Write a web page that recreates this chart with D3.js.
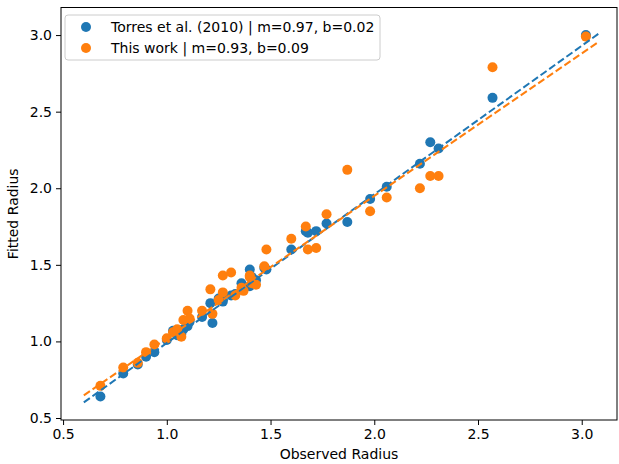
<!DOCTYPE html>
<html>
<head>
<meta charset="utf-8">
<script src="https://cdn.jsdelivr.net/npm/d3@7"></script>
<style>
  body { margin: 0; background: #fff; }
  svg { font-family: "DejaVu Sans", sans-serif; }
</style>
</head>
<body>
<div id="chart"></div>
<script>
// Observed radius, and fitted radius from each method (same stars)
const observed = [0.68, 0.79, 0.86, 0.90, 0.94, 1.00, 1.03, 1.05, 1.07, 1.08, 1.10, 1.11, 1.17, 1.21, 1.22,
  1.25, 1.27, 1.27, 1.31, 1.33, 1.36, 1.37, 1.40, 1.40, 1.41, 1.43, 1.47, 1.48, 1.60, 1.67, 1.68, 1.72,
  1.77, 1.87, 1.98, 2.06, 2.22, 2.27, 2.31, 2.57, 3.02];
const torres = [0.64, 0.79, 0.85, 0.90, 0.93, 1.01, 1.07, 1.04, 1.05, 1.08, 1.10, 1.13, 1.16, 1.25, 1.12,
  1.28, 1.31, 1.26, 1.30, 1.31, 1.38, 1.34, 1.47, 1.36, 1.42, 1.40, 1.48, 1.47, 1.60, 1.72, 1.71, 1.72,
  1.77, 1.78, 1.93, 2.01, 2.16, 2.30, 2.26, 2.59, 3.00];
const thisWork = [0.71, 0.83, 0.86, 0.93, 0.98, 1.02, 1.06, 1.08, 1.03, 1.14, 1.20, 1.15, 1.20, 1.34, 1.18,
  1.27, 1.43, 1.32, 1.45, 1.30, 1.35, 1.33, 1.42, 1.43, 1.38, 1.37, 1.49, 1.60, 1.67, 1.75, 1.60, 1.61,
  1.83, 2.12, 1.85, 1.94, 2.00, 2.08, 2.08, 2.79, 2.99];

// linear fits: y = m*x + b
const fits = [
  { label: "Torres et al. (2010)", m: 0.97, b: 0.02, color: "#1f77b4", values: torres },
  { label: "This work", m: 0.93, b: 0.09, color: "#ff7f0e", values: thisWork }
];
const fitRange = [0.6, 3.08];

const xTicks = [0.5, 1.0, 1.5, 2.0, 2.5, 3.0];
const yTicks = [0.5, 1.0, 1.5, 2.0, 2.5, 3.0];

const W = 619, H = 464;
const margin = { top: 7.5, right: 2, bottom: 44, left: 61 };
const fontSize = "14px";

const svg = d3.select("#chart").append("svg")
  .attr("width", W)
  .attr("height", H);

const x = d3.scaleLinear().domain([0.49, 3.17]).range([margin.left, W - margin.right]);
const y = d3.scaleLinear().domain([0.487, 3.18]).range([H - margin.bottom, margin.top]);

// points
fits.forEach(f => {
  svg.append("g")
    .selectAll("circle")
    .data(observed.map((o, i) => [o, f.values[i]]))
    .enter().append("circle")
    .attr("cx", d => x(d[0]))
    .attr("cy", d => y(d[1]))
    .attr("r", 5)
    .attr("fill", f.color);
});

// fit lines drawn over the points
fits.forEach(f => {
  svg.append("line")
    .attr("x1", x(fitRange[0]))
    .attr("y1", y(f.m * fitRange[0] + f.b))
    .attr("x2", x(fitRange[1]))
    .attr("y2", y(f.m * fitRange[1] + f.b))
    .attr("stroke", f.color)
    .attr("stroke-width", 2)
    .attr("stroke-dasharray", "7.4,3.2");
});

// axes
const xAxis = svg.append("g")
  .attr("transform", `translate(0,${H - margin.bottom})`)
  .call(d3.axisBottom(x).tickValues(xTicks).tickFormat(d3.format(".1f")).tickSizeOuter(0).tickSize(5).tickPadding(4));
const yAxis = svg.append("g")
  .attr("transform", `translate(${margin.left},0)`)
  .call(d3.axisLeft(y).tickValues(yTicks).tickFormat(d3.format(".1f")).tickSizeOuter(0).tickSize(5).tickPadding(4));

[xAxis, yAxis].forEach(a => {
  a.select(".domain").remove();
  a.selectAll("text").attr("font-size", fontSize).attr("fill", "#000").attr("font-family", "DejaVu Sans");
  a.selectAll("line").attr("stroke", "#000").attr("stroke-width", 1);
});

// frame
svg.append("rect")
  .attr("x", margin.left)
  .attr("y", margin.top)
  .attr("width", W - margin.left - margin.right)
  .attr("height", H - margin.top - margin.bottom)
  .attr("fill", "none")
  .attr("stroke", "#000")
  .attr("stroke-width", 1);

// axis labels
svg.append("text")
  .attr("x", (margin.left + W - margin.right) / 2)
  .attr("y", H - 5)
  .attr("text-anchor", "middle")
  .attr("font-size", fontSize)
  .text("Observed Radius");

svg.append("text")
  .attr("transform", `translate(18,${(margin.top + H - margin.bottom) / 2}) rotate(-90)`)
  .attr("text-anchor", "middle")
  .attr("font-size", fontSize)
  .text("Fitted Radius");

// legend
const legend = svg.append("g").attr("transform", "translate(65,15)");
legend.append("rect")
  .attr("width", 315)
  .attr("height", 45)
  .attr("rx", 3)
  .attr("fill", "#fff")
  .attr("fill-opacity", 0.8)
  .attr("stroke", "#ccc")
  .attr("stroke-width", 1);

fits.forEach((f, i) => {
  legend.append("circle")
    .attr("cx", 21)
    .attr("cy", 12 + i * 21)
    .attr("r", 5)
    .attr("fill", f.color);
  legend.append("text")
    .attr("x", 46)
    .attr("y", 12 + i * 21)
    .attr("dy", "0.35em")
    .attr("font-size", fontSize)
    .text(`${f.label} | m=${f.m.toFixed(2)}, b=${f.b.toFixed(2)}`);
});
</script>
</body>
</html>
